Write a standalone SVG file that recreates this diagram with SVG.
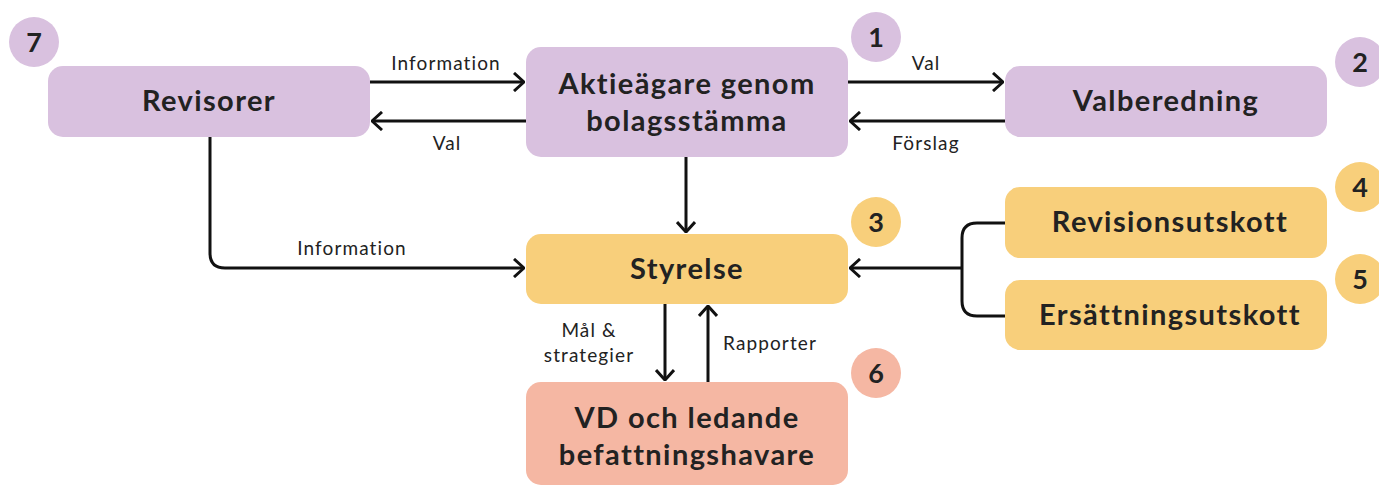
<svg xmlns="http://www.w3.org/2000/svg" width="1379" height="486" viewBox="0 0 1379 486">
<defs>
<style>
.box{stroke:none}
.p{fill:#d9c1df}
.y{fill:#f8cf7b}
.s{fill:#f5b7a3}
.t{font-family:Lato,"Noto Sans",sans-serif;font-weight:700;font-size:29px;fill:#222;text-anchor:middle;letter-spacing:1.4px}
.n{font-family:Lato,"Noto Sans",sans-serif;font-weight:700;font-size:27px;fill:#222;text-anchor:middle}
.l{font-family:Lato,"Noto Sans",sans-serif;font-size:19px;fill:#222;text-anchor:middle;letter-spacing:1.1px}
.c{fill:none;stroke:#111;stroke-width:3}
</style>
<marker id="a" viewBox="0 0 12 20" markerWidth="12" markerHeight="20" refX="11" refY="10" orient="auto" markerUnits="userSpaceOnUse">
<path d="M1,1 L11,10 L1,19" fill="none" stroke="#111" stroke-width="3"/>
</marker>
</defs>
<rect width="1379" height="486" fill="#fff"/>
<g id="connectors">
<path class="c" d="M370,82 H524" marker-end="url(#a)"/>
<path class="c" d="M526,121 H372" marker-end="url(#a)"/>
<path class="c" d="M848,82 H1003" marker-end="url(#a)"/>
<path class="c" d="M1005,121 H850" marker-end="url(#a)"/>
<path class="c" d="M686,157 V232" marker-end="url(#a)"/>
<path class="c" d="M210,137 V253 Q210,268 225,268 H524" marker-end="url(#a)"/>
<path class="c" d="M1005,223 H977 Q962,223 962,238 V301 Q962,316 977,316 H1005"/>
<path class="c" d="M962,268 H850" marker-end="url(#a)"/>
<path class="c" d="M665,304 V380" marker-end="url(#a)"/>
<path class="c" d="M708,382 V306" marker-end="url(#a)"/>
<text class="l" x="446" y="70">Information</text>
<text class="l" x="447" y="150">Val</text>
<text class="l" x="926" y="70">Val</text>
<text class="l" x="926" y="150">Förslag</text>
<text class="l" x="352" y="255">Information</text>
<text class="l" x="589" y="337">Mål &amp;</text>
<text class="l" x="589" y="362">strategier</text>
<text class="l" x="770" y="350">Rapporter</text>
</g>
<g id="revisorer">
<rect class="box p" x="48" y="66" width="322" height="71" rx="15"/>
<text class="t" x="209" y="111">Revisorer</text>
<circle class="p" cx="34" cy="42" r="25"/>
<text class="n" x="34" y="52">7</text>
</g>
<g id="aktieagare">
<rect class="box p" x="526" y="47" width="322" height="110" rx="15"/>
<text class="t" x="687" y="94">Aktieägare genom</text>
<text class="t" x="687" y="131">bolagsstämma</text>
<circle class="p" cx="876" cy="37" r="25"/>
<text class="n" x="876" y="47">1</text>
</g>
<g id="valberedning">
<rect class="box p" x="1005" y="66" width="322" height="71" rx="15"/>
<text class="t" x="1166" y="111">Valberedning</text>
<circle class="p" cx="1360" cy="62" r="25"/>
<text class="n" x="1360" y="72">2</text>
</g>
<g id="styrelse">
<rect class="box y" x="526" y="234" width="322" height="70" rx="15"/>
<text class="t" x="687" y="279">Styrelse</text>
<circle class="y" cx="876" cy="222" r="25"/>
<text class="n" x="876" y="232">3</text>
</g>
<g id="revisionsutskott">
<rect class="box y" x="1005" y="187" width="322" height="71" rx="15"/>
<text class="t" x="1170" y="232">Revisionsutskott</text>
<circle class="y" cx="1360" cy="187" r="25"/>
<text class="n" x="1360" y="197">4</text>
</g>
<g id="ersattningsutskott">
<rect class="box y" x="1005" y="280" width="322" height="70" rx="15"/>
<text class="t" x="1170" y="325">Ersättningsutskott</text>
<circle class="y" cx="1360" cy="279" r="25"/>
<text class="n" x="1360" y="289">5</text>
</g>
<g id="vd">
<rect class="box s" x="526" y="382" width="322" height="103" rx="15"/>
<text class="t" x="687" y="428">VD och ledande</text>
<text class="t" x="687" y="465">befattningshavare</text>
<circle class="s" cx="876" cy="373" r="25"/>
<text class="n" x="876" y="383">6</text>
</g>
</svg>
